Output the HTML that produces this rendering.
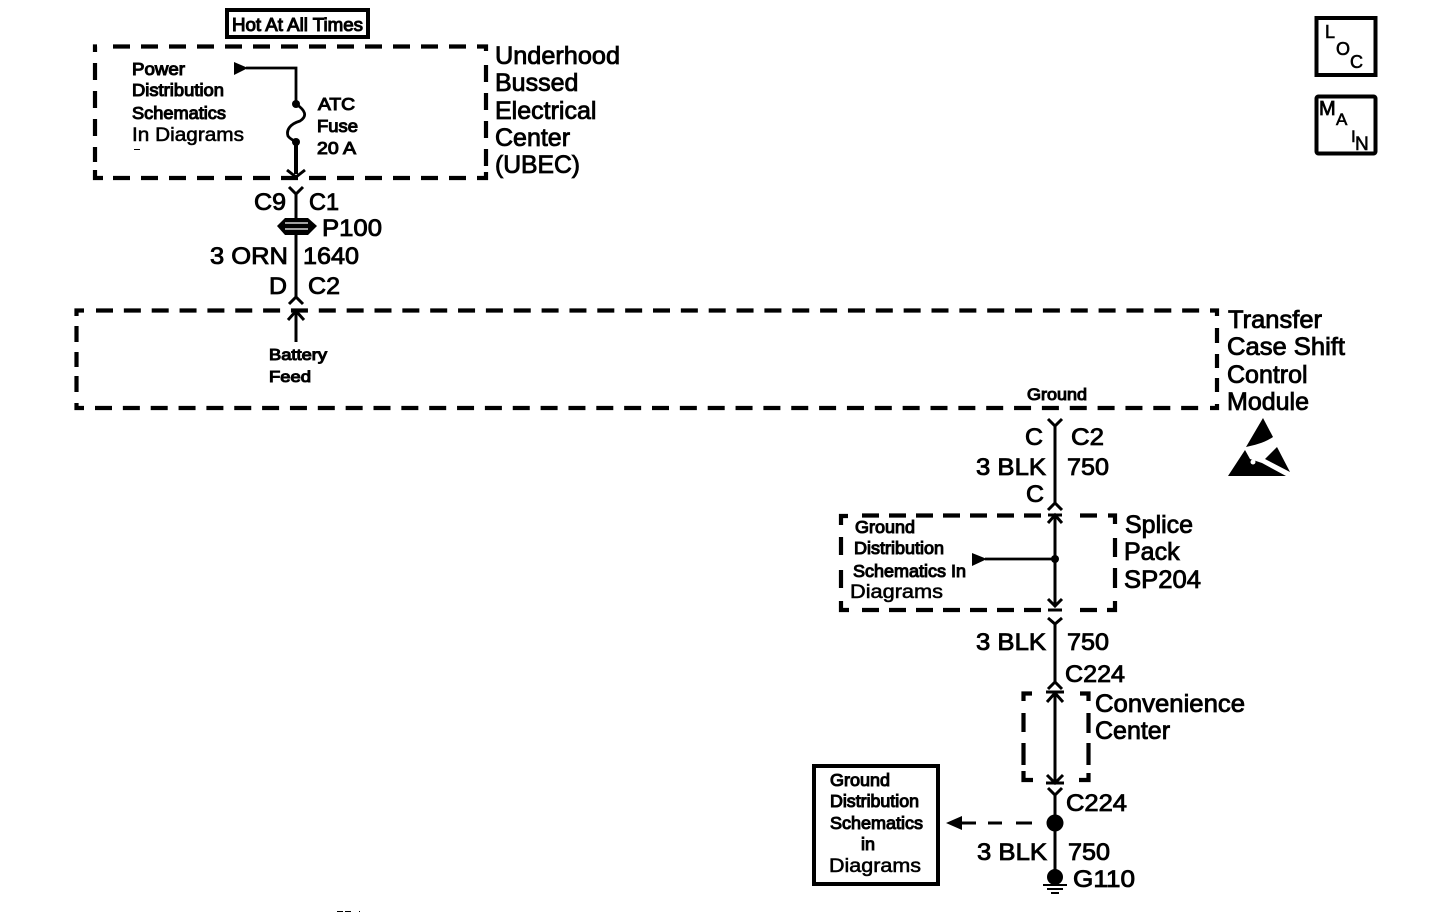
<!DOCTYPE html>
<html><head><meta charset="utf-8"><style>
html,body{margin:0;padding:0;background:#fff;width:1440px;height:916px;overflow:hidden}
svg{display:block}
text{font-family:"Liberation Sans",sans-serif;fill:#000;stroke:#000;stroke-width:.85}
.l{font-size:25px}
.m{font-size:24px}
.s{font-size:17.5px;stroke-width:1.05}
.t{font-size:19px;stroke-width:.55}
.d{fill:none;stroke:#000;stroke-width:4.200}
.da{stroke-dasharray:17 11}
.dm{stroke-dasharray:17 10.85}
.w{fill:none;stroke:#000;stroke-width:2.800}
.c{fill:none;stroke:#000;stroke-width:3}
</style></head><body>
<svg width="1440" height="916" viewBox="0 0 1440 916" xmlns="http://www.w3.org/2000/svg">
<!-- Top left -->
<rect x="227" y="10" width="141" height="27" fill="none" stroke="#000" stroke-width="4"/>
<text x="232" y="31" class="s" style="font-size:18.5px" textLength="131" lengthAdjust="spacingAndGlyphs">Hot At All Times</text>
<!-- UBEC box -->
<path class="d da" d="M113 46.500H470M113 178H470M95 63V162M486 65V168"/>
<path class="d" d="M95 52V46.500H97M95 170V178H103M477 46.500H486V51M477 178H486V172"/>
<text x="132" y="75" class="s" textLength="53" lengthAdjust="spacingAndGlyphs">Power</text>
<text x="132" y="96" class="s" textLength="92" lengthAdjust="spacingAndGlyphs">Distribution</text>
<text x="132" y="119" class="s" textLength="94" lengthAdjust="spacingAndGlyphs">Schematics</text>
<text x="132" y="141" class="t" textLength="112" lengthAdjust="spacingAndGlyphs">In Diagrams</text>
<rect x="134" y="149" width="6" height="1"/>
<path d="M234 62L248 68L234 75Z"/>
<path class="w" d="M246 68H296V104"/>
<circle cx="296" cy="104" r="4"/>
<path class="w" d="M296 104C305 110 308 116 300 121C290 124 286 130 288 136C290 139 293 140 296 142"/>
<circle cx="296" cy="142" r="4"/>
<path d="M294 142h4v32h-4z"/>
<path class="c" d="M287 170L296 177L305 170"/>
<text x="318" y="110" class="s" textLength="37" lengthAdjust="spacingAndGlyphs">ATC</text>
<text x="317" y="132" class="s" textLength="41" lengthAdjust="spacingAndGlyphs">Fuse</text>
<text x="317" y="154" class="s" textLength="39" lengthAdjust="spacingAndGlyphs">20 A</text>
<text x="495" y="64" class="l" textLength="125" lengthAdjust="spacingAndGlyphs">Underhood</text>
<text x="495" y="91" class="l">Bussed</text>
<text x="495" y="119" class="l">Electrical</text>
<text x="495" y="146" class="l">Center</text>
<text x="495" y="173" class="l" textLength="85" lengthAdjust="spacingAndGlyphs">(UBEC)</text>
<!-- P100 -->
<path class="c" d="M289 187L296 194L303 187M296 194V218"/>
<text x="254" y="210" class="m" textLength="32" lengthAdjust="spacingAndGlyphs">C9</text>
<text x="309" y="210" class="m" textLength="30" lengthAdjust="spacingAndGlyphs">C1</text>
<path d="M277 226L285 218H308L317 226L308 235H285Z"/>
<path d="M285 223H308M285 229H308" stroke="#fff" stroke-width="1.200"/>
<text x="322" y="236" class="m" textLength="60" lengthAdjust="spacingAndGlyphs">P100</text>
<path class="c" d="M296 234V298M289 304L296 297L303 304"/>
<text x="210" y="264" class="m" textLength="78" lengthAdjust="spacingAndGlyphs">3 ORN</text>
<text x="303" y="264" class="m" textLength="56" lengthAdjust="spacingAndGlyphs">1640</text>
<text x="269" y="294" class="m" textLength="18" lengthAdjust="spacingAndGlyphs">D</text>
<text x="308" y="294" class="m" textLength="32" lengthAdjust="spacingAndGlyphs">C2</text>
<!-- Module box -->
<path class="d dm" d="M96 310.500H1200M95 408H1199"/>
<path class="d" d="M76.500 326V342M76.500 352V367M76.500 376V392M1217 328V343M1217 354V368M1217 378V392"/>
<path class="d" d="M76.500 316V310.500H84M76.500 403V408H84M1210 310.500H1217V316M1210 408H1217V404"/>
<path class="c" d="M296 342V312M288 320L296 311L304 320"/>
<text x="269" y="360" class="s" style="font-size:15.500px" textLength="58" lengthAdjust="spacingAndGlyphs">Battery</text>
<text x="269" y="382" class="s" style="font-size:15.500px" textLength="42" lengthAdjust="spacingAndGlyphs">Feed</text>
<text x="1027" y="400" class="s" style="font-size:16.500px" textLength="60" lengthAdjust="spacingAndGlyphs">Ground</text>
<text x="1228" y="328" class="l" textLength="94" lengthAdjust="spacingAndGlyphs">Transfer</text>
<text x="1227" y="355" class="l" textLength="118" lengthAdjust="spacingAndGlyphs">Case Shift</text>
<text x="1227" y="383" class="l">Control</text>
<text x="1227" y="410" class="l">Module</text>
<!-- ESD -->
<path d="M1263 418L1273 437C1264 443 1255 445 1246 447Z"/>
<path d="M1228 476L1245 450L1250 459L1262 463L1286 476Z"/>
<path d="M1277 447L1290 472L1265 459Z"/>
<circle cx="1253" cy="462" r="2.500" fill="#fff"/>
<!-- LOC MAIN -->
<rect x="1316.500" y="18" width="59" height="57" fill="none" stroke="#000" stroke-width="4"/>
<text x="1325" y="38" style="font-size:18px;stroke-width:.6">L</text>
<text x="1336" y="55" style="font-size:18px;stroke-width:.6">O</text>
<text x="1350" y="68" style="font-size:18px;stroke-width:.6">C</text>
<rect x="1316.500" y="96.500" width="59" height="57" rx="2" fill="none" stroke="#000" stroke-width="4"/>
<text x="1319" y="115" style="font-size:20px;stroke-width:.8">M</text>
<text x="1336" y="125" style="font-size:17px;stroke-width:.6">A</text>
<text x="1351" y="142" style="font-size:17px;stroke-width:.6">I</text>
<text x="1355" y="150" style="font-size:19px;stroke-width:.6">N</text>
<!-- Right column -->
<path class="c" d="M1048 419L1055 426L1062 419M1055 426V503M1048 510L1055 503L1062 510"/>
<text x="1025" y="445" class="m" textLength="18" lengthAdjust="spacingAndGlyphs">C</text>
<text x="1071" y="445" class="m" textLength="33" lengthAdjust="spacingAndGlyphs">C2</text>
<text x="976" y="475" class="m" textLength="70" lengthAdjust="spacingAndGlyphs">3 BLK</text>
<text x="1067" y="475" class="m" textLength="42" lengthAdjust="spacingAndGlyphs">750</text>
<text x="1026" y="502" class="m" textLength="18" lengthAdjust="spacingAndGlyphs">C</text>
<!-- Splice box -->
<path class="d" style="stroke-dasharray:17 10" d="M862 515.500H1044M862 610H1044M1080 515.500H1097M1080 610H1097"/>
<path class="d" d="M841 525V516H848M841 537V555M841 570V588M841 601V610H849M1108 515.500H1115V524M1115 538V557M1115 568V588M1115 601V610H1107"/>
<path class="c" d="M1048 515H1062M1048 523L1055 515L1062 523M1055 515V606M1048 599L1055 606L1062 599M1048 610H1062"/>
<path class="c" d="M1048 618L1055 624L1062 618"/>
<path d="M972 553L987 559L972 566Z"/>
<path class="w" d="M985 559H1055"/>
<circle cx="1055" cy="559" r="4"/>
<text x="855" y="533" class="s" textLength="60" lengthAdjust="spacingAndGlyphs">Ground</text>
<text x="854" y="554" class="s" textLength="90" lengthAdjust="spacingAndGlyphs">Distribution</text>
<text x="853" y="577" class="s" textLength="113" lengthAdjust="spacingAndGlyphs">Schematics In</text>
<text x="850" y="598" class="t" textLength="93" lengthAdjust="spacingAndGlyphs">Diagrams</text>
<text x="1125" y="533" class="l">Splice</text>
<text x="1124" y="560" class="l">Pack</text>
<text x="1124" y="588" class="l" textLength="77" lengthAdjust="spacingAndGlyphs">SP204</text>
<path class="c" d="M1055 624V682M1048 689L1055 682L1062 689"/>
<text x="976" y="650" class="m" textLength="70" lengthAdjust="spacingAndGlyphs">3 BLK</text>
<text x="1067" y="650" class="m" textLength="42" lengthAdjust="spacingAndGlyphs">750</text>
<text x="1065" y="682" class="m" textLength="60" lengthAdjust="spacingAndGlyphs">C224</text>
<!-- Convenience box -->
<path class="d" d="M1032 693.500H1023.500V701M1023.500 713V732M1023.500 743V765M1023.500 771V780H1033M1080 693.500H1088.500V701M1088.500 713V733M1088.500 743V765M1088.500 773V780H1079"/>
<path class="c" d="M1046 692H1064M1047 702L1055 693L1063 702M1055 693V784M1047 775L1055 783L1063 775M1046 783H1064"/>
<path class="c" d="M1048 788L1055 795L1062 788M1055 795V878"/>
<text x="1066" y="811" class="m" textLength="61" lengthAdjust="spacingAndGlyphs">C224</text>
<circle cx="1055" cy="823" r="8.500"/>
<path d="M946 823L962 816V830Z"/>
<path d="M960 823H976M988 823H1002M1016 823H1032" stroke="#000" stroke-width="3"/>
<text x="1095" y="712" class="l" textLength="150" lengthAdjust="spacingAndGlyphs">Convenience</text>
<text x="1095" y="739" class="l">Center</text>
<rect x="814" y="766" width="124" height="118" fill="none" stroke="#000" stroke-width="4"/>
<text x="830" y="786" class="s" textLength="60" lengthAdjust="spacingAndGlyphs">Ground</text>
<text x="830" y="807" class="s" textLength="89" lengthAdjust="spacingAndGlyphs">Distribution</text>
<text x="830" y="829" class="s" textLength="93" lengthAdjust="spacingAndGlyphs">Schematics</text>
<text x="861" y="850" class="s" textLength="14" lengthAdjust="spacingAndGlyphs">in</text>
<text x="829" y="872" class="t" textLength="92" lengthAdjust="spacingAndGlyphs">Diagrams</text>
<text x="977" y="860" class="m" textLength="70" lengthAdjust="spacingAndGlyphs">3 BLK</text>
<text x="1068" y="860" class="m" textLength="42" lengthAdjust="spacingAndGlyphs">750</text>
<circle cx="1055" cy="877" r="8"/>
<path d="M1043 885H1067M1047 889H1063M1051 893H1059" stroke="#000" stroke-width="2"/>
<text x="1073" y="887" class="m" textLength="62" lengthAdjust="spacingAndGlyphs">G110</text>
<rect x="337" y="911" width="6" height="1"/><rect x="345" y="911" width="6" height="1"/><rect x="359" y="911" width="1" height="1"/>
</svg>
</body></html>
